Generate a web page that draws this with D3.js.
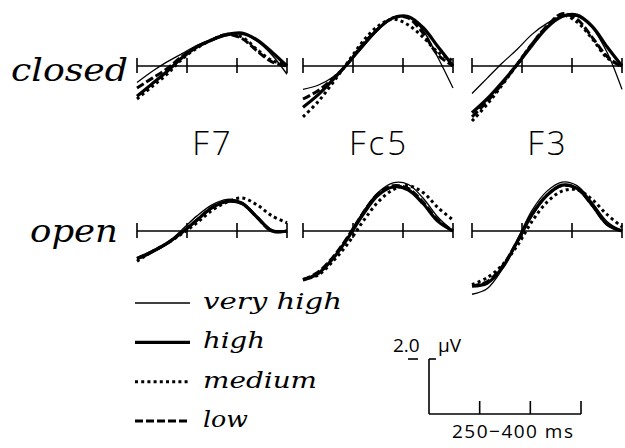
<!DOCTYPE html>
<html>
<head>
<meta charset="utf-8">
<script src="https://cdn.jsdelivr.net/npm/d3@7"></script>
<style>
  body { margin: 0; background: #fff; }
  svg { display: block; }
</style>
</head>
<body>
<script>
const w = 625
const h = 448

// time samples (ms) shared by all waveforms
const times = [250, 265, 280, 295, 310, 325, 340, 355, 370, 385, 400]
const timeTicks = [250, 300, 350, 400]

const conditions = ['very high', 'high', 'medium', 'low']
const electrodes = ['F7', 'Fc5', 'F3']
const rowLabels = ['closed', 'open']

// amplitudes in microvolts, one list per row / electrode / condition
const closedF7 = {
  'very high': [-0.6, -0.2, 0.15, 0.45, 0.75, 0.95, 1.1, 1.15, 0.9, 0.4, -0.3],
  high: [-1.1, -0.65, -0.2, 0.3, 0.7, 0.95, 1.15, 1.2, 0.95, 0.5, 0.0],
  medium: [-1.2, -0.75, -0.3, 0.25, 0.65, 0.95, 1.15, 1.05, 0.6, 0.2, 0.05],
  low: [-0.8, -0.45, -0.1, 0.35, 0.7, 0.95, 1.15, 1.0, 0.55, 0.15, 0.0]
}
const closedFc5 = {
  'very high': [-0.85, -0.7, -0.4, 0.1, 0.7, 1.3, 1.75, 1.8, 1.3, 0.3, -0.8],
  high: [-1.5, -1.05, -0.5, 0.1, 0.75, 1.35, 1.75, 1.8, 1.4, 0.7, 0.0],
  medium: [-1.85, -1.3, -0.6, 0.15, 0.9, 1.45, 1.7, 1.5, 1.05, 0.5, 0.2],
  low: [-1.2, -0.9, -0.45, 0.1, 0.8, 1.35, 1.75, 1.75, 1.2, 0.4, 0.0]
}
const closedF3 = {
  'very high': [-1.0, -0.45, 0.1, 0.6, 1.15, 1.55, 1.8, 1.8, 1.4, 0.5, -0.85],
  high: [-1.7, -1.2, -0.6, 0.05, 0.75, 1.4, 1.8, 1.85, 1.45, 0.7, 0.0],
  medium: [-2.0, -1.4, -0.7, 0.05, 0.8, 1.45, 1.85, 1.6, 1.0, 0.3, 0.0],
  low: [-1.85, -1.3, -0.65, 0.05, 0.8, 1.45, 1.9, 1.7, 1.05, 0.35, -0.05]
}
const openF7 = {
  'very high': [-1.05, -0.8, -0.45, 0.05, 0.55, 0.95, 1.15, 1.05, 0.55, 0.05, 0.0],
  high: [-1.0, -0.75, -0.45, -0.05, 0.4, 0.85, 1.08, 1.0, 0.5, 0.0, 0.0],
  medium: [-1.1, -0.75, -0.45, -0.1, 0.3, 0.75, 1.05, 1.2, 0.95, 0.55, 0.3],
  low: [-1.0, -0.75, -0.45, -0.05, 0.4, 0.85, 1.08, 1.0, 0.5, 0.0, 0.0]
}
const openFc5 = {
  'very high': [-1.75, -1.55, -1.0, -0.2, 0.7, 1.4, 1.75, 1.7, 1.2, 0.5, 0.0],
  high: [-1.78, -1.55, -1.0, -0.25, 0.6, 1.3, 1.6, 1.5, 1.0, 0.35, 0.0],
  medium: [-1.75, -1.6, -1.1, -0.45, 0.35, 1.05, 1.5, 1.65, 1.4, 0.85, 0.4],
  low: [-1.78, -1.5, -0.95, -0.2, 0.65, 1.35, 1.65, 1.55, 1.05, 0.4, 0.0]
}
const openF3 = {
  'very high': [-2.3, -2.1, -1.4, -0.35, 0.75, 1.45, 1.78, 1.65, 1.05, 0.35, 0.0],
  high: [-2.0, -1.9, -1.35, -0.4, 0.6, 1.3, 1.67, 1.55, 0.95, 0.25, 0.0],
  medium: [-1.95, -1.7, -1.25, -0.55, 0.35, 1.05, 1.45, 1.5, 1.15, 0.6, 0.15],
  low: [-2.0, -1.85, -1.3, -0.4, 0.6, 1.3, 1.65, 1.55, 0.95, 0.25, 0.0]
}

const panels = [
  [closedF7, closedFc5, closedF3],
  [openF7, openFc5, openF3]
]

// layout
const colX = [137, 303, 472]
const panelW = 150
const rowY = [66, 231]
const pxPerUv = 27.5

const styles = {
  'very high': { width: 1.3, dash: null },
  high: { width: 3.2, dash: null },
  medium: { width: 3, dash: '3,3.2' },
  low: { width: 3, dash: '8,3' }
}

const svg = d3.select('body').append('svg')
  .attr('width', w)
  .attr('height', h)

const serif = "'DejaVu Serif', serif"
const thinSans = "'Open Sans', 'Lato', 'Liberation Sans', sans-serif"

function drawPanel (data, cx, cy) {
  const x = d3.scaleLinear().domain([250, 400]).range([cx, cx + panelW])
  const y = d3.scaleLinear().domain([-1, 1]).range([cy + pxPerUv, cy - pxPerUv])

  const g = svg.append('g')

  g.append('line')
    .attr('x1', x(250)).attr('x2', x(400))
    .attr('y1', y(0)).attr('y2', y(0))
    .attr('stroke', '#000').attr('stroke-width', 1.6)

  g.selectAll('line.tick')
    .data(timeTicks)
    .enter().append('line')
    .attr('class', 'tick')
    .attr('x1', d => x(d)).attr('x2', d => x(d))
    .attr('y1', y(0) - 8).attr('y2', y(0) + 7)
    .attr('stroke', '#000').attr('stroke-width', 1.6)

  const lineFn = d3.line()
    .x((d, i) => x(times[i]))
    .y(d => y(d))
    .curve(d3.curveCatmullRom)

  conditions.forEach(c => {
    g.append('path')
      .attr('d', lineFn(data[c]))
      .attr('fill', 'none')
      .attr('stroke', '#000')
      .attr('stroke-width', styles[c].width)
      .attr('stroke-dasharray', styles[c].dash)
  })
}

panels.forEach((row, r) => {
  row.forEach((data, c) => drawPanel(data, colX[c], rowY[r]))
})

// row labels, stretched to the wide typeset originals
const rowLabelX = [11, 30]
const rowLabelLen = [117, 88]
const rowLabelY = [81, 242]
rowLabels.forEach((t, i) => {
  svg.append('text')
    .attr('x', rowLabelX[i])
    .attr('y', rowLabelY[i])
    .attr('font-family', serif)
    .attr('font-style', 'italic')
    .attr('font-size', 31)
    .attr('textLength', rowLabelLen[i])
    .attr('lengthAdjust', 'spacingAndGlyphs')
    .text(t)
})

// electrode names
electrodes.forEach((t, i) => {
  svg.append('text')
    .attr('x', colX[i] + panelW / 2 + 1)
    .attr('y', 155)
    .attr('text-anchor', 'middle')
    .attr('font-family', thinSans)
    .attr('font-weight', 300)
    .attr('font-size', 33)
    .attr('letter-spacing', 3)
    .text(t)
})

// legend
const legendY = d3.scalePoint().domain(conditions).range([303, 421])
const legendLen = { 'very high': 139, high: 62, medium: 114, low: 45 }
const lg = svg.append('g')
conditions.forEach(c => {
  lg.append('line')
    .attr('x1', 135).attr('x2', 190)
    .attr('y1', legendY(c)).attr('y2', legendY(c))
    .attr('stroke', '#000')
    .attr('stroke-width', styles[c].width)
    .attr('stroke-dasharray', styles[c].dash)
  lg.append('text')
    .attr('x', 203)
    .attr('y', legendY(c) + 6)
    .attr('font-family', serif)
    .attr('font-style', 'italic')
    .attr('font-size', 23)
    .attr('textLength', legendLen[c])
    .attr('lengthAdjust', 'spacingAndGlyphs')
    .text(c)
})

// scale bar
const sx = d3.scaleLinear().domain([250, 400]).range([429, 581])
const sy = d3.scaleLinear().domain([0, 2]).range([414, 414 - 2 * pxPerUv])
const sb = svg.append('g').attr('stroke', '#000').attr('stroke-width', 1.6)
sb.append('line').attr('x1', sx(250)).attr('x2', sx(400)).attr('y1', sy(0)).attr('y2', sy(0))
sb.append('line').attr('x1', sx(250)).attr('x2', sx(250)).attr('y1', sy(0)).attr('y2', sy(2))
sb.append('line').attr('x1', sx(250)).attr('x2', sx(250) + 7).attr('y1', sy(2)).attr('y2', sy(2))
sb.append('line').attr('x1', 408).attr('x2', 418).attr('y1', sy(2)).attr('y2', sy(2))
sb.selectAll('line.t')
  .data(timeTicks.slice(1))
  .enter().append('line')
  .attr('class', 't')
  .attr('x1', d => sx(d)).attr('x2', d => sx(d))
  .attr('y1', sy(0)).attr('y2', sy(0) - 13)

svg.append('text')
  .attr('x', 393).attr('y', 352)
  .attr('font-family', thinSans).attr('font-size', 19)
  .text('2.0')
svg.append('text')
  .attr('x', 438).attr('y', 352)
  .attr('font-family', thinSans).attr('font-size', 19)
  .text('\u03bcV')
svg.append('text')
  .attr('x', 452).attr('y', 438)
  .attr('font-family', thinSans).attr('font-size', 19)
  .attr('textLength', 121)
  .attr('lengthAdjust', 'spacing')
  .text('250\u2212400  ms')
</script>
</body>
</html>
